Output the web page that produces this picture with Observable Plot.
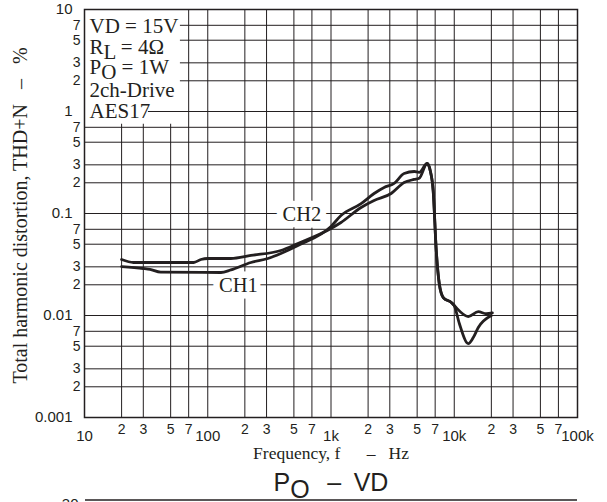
<!DOCTYPE html>
<html><head><meta charset="utf-8">
<script src="https://cdn.jsdelivr.net/npm/d3@7"></script>
<script src="https://cdn.jsdelivr.net/npm/@observablehq/plot@0.6"></script>
<style>body{margin:0;background:#fff} svg{display:block}</style>
</head><body><div id="chart"></div>
<script>
// ---- data ----
const xMajorTicks = [10, 100, 1000, 10000, 100000];
const xMajorLabels = ["10", "100", "1k", "10k", "100k"];
const xMinorTicks = [20, 30, 50, 70, 200, 300, 500, 700, 2000, 3000, 5000, 7000, 20000, 30000, 50000, 70000];
const xMinorLabels = ["2", "3", "5", "7", "2", "3", "5", "7", "2", "3", "5", "7", "2", "3", "5", "7"];
const yMajorTicks = [10, 1, 0.1, 0.01, 0.001];
const yMajorLabels = ["10", "1", "0.1", "0.01", "0.001"];
const yMinorTicks = [7, 5, 3, 2, 0.7, 0.5, 0.3, 0.2, 0.07, 0.05, 0.03, 0.02, 0.007, 0.005, 0.003, 0.002];
const yMinorLabels = ["7", "5", "3", "2", "7", "5", "3", "2", "7", "5", "3", "2", "7", "5", "3", "2"];

const ch1Freq = [20, 30, 34, 41.5, 128, 154, 224, 307, 392, 539, 1000, 1205, 1754, 2237, 2698, 3251, 3919, 4732, 5193, 6026, 6380, 6745, 7145, 7555, 8147, 9462, 10000, 13000, 15670, 18200, 20400];
const ch1Thd  = [0.0302, 0.0289, 0.0283, 0.0266, 0.0264, 0.0280, 0.0331, 0.0362, 0.0406, 0.0486, 0.0746, 0.0955, 0.125, 0.157, 0.180, 0.197, 0.247, 0.258, 0.253, 0.309, 0.264, 0.168, 0.0434, 0.0206, 0.0150, 0.0134, 0.0125, 0.00977, 0.0109, 0.0104, 0.0106];
const ch2Freq = [20, 25, 40, 77, 88, 100, 154, 224, 392, 539, 1000, 1205, 1754, 2237, 3076, 3919, 4732, 5193, 6026, 6380, 6745, 7145, 7555, 8147, 9462, 10000, 11000, 13000, 14270, 15670, 20000];
const ch2Thd  = [0.0354, 0.0331, 0.0331, 0.0331, 0.0354, 0.0362, 0.0362, 0.0388, 0.0434, 0.0508, 0.0713, 0.0816, 0.1146, 0.134, 0.157, 0.201, 0.216, 0.222, 0.309, 0.264, 0.168, 0.0434, 0.0206, 0.0150, 0.0134, 0.0125, 0.00835, 0.00531, 0.00608, 0.00762, 0.00998];

const seriesNames = ["CH1", "CH2"];
const boxLines = ["VD = 15V", "R_L = 4Ω", "P_O = 1W", "2ch-Drive", "AES17"];
const xTitle = "Frequency, f\u2003\u2002–\u2002\u00a0Hz";
const yTitle = "Total harmonic distortion, THD+N\u2002\u00a0–\u2002\u00a0%";
const nextTitle = "P_O\u2002\u2009–\u2002VD";
const nextFirstTick = "30";

// ---- style ----
const SERIF = "'Liberation Serif','Times New Roman',serif";
const SANS = "'Liberation Sans',Arial,sans-serif";
const INK = "#231f20";
const boxDy = [23, 44, 64, 87, 108];

const ch1 = ch1Freq.map((f, i) => ({f, v: ch1Thd[i]}));
const ch2 = ch2Freq.map((f, i) => ({f, v: ch2Thd[i]}));

const chart = Plot.plot({
  width: 607, height: 502,
  marginTop: 9, marginBottom: 85, marginLeft: 84, marginRight: 30,
  x: {type: "log", domain: [10, 100000], axis: null},
  y: {type: "log", domain: [0.001, 10], axis: null},
  style: {background: "white"},
  marks: [
    Plot.ruleX(xMajorTicks.concat(xMinorTicks), {stroke: INK, strokeWidth: 1}),
    Plot.ruleY(yMajorTicks.concat(yMinorTicks), {stroke: INK, strokeWidth: 1}),
    // white legend box (knocks out the grid behind the conditions text)
    Plot.rect([0], {x1: 10, x2: 56, y1: 0.75, y2: 10, fill: "white", stroke: null}),
    Plot.rect([0], {x1: 55, x2: 60, y1: 1.06, y2: 10, fill: "white", stroke: null}),
    Plot.ruleY([1], {x1: 33, x2: 100000, stroke: INK, strokeWidth: 1}),
    Plot.frame({stroke: INK, strokeWidth: 1.5}),
    ...boxLines.map((t, i) => Plot.text([t], {
      frameAnchor: "top-left", textAnchor: "start", lineAnchor: "bottom",
      dx: 5, dy: boxDy[i], fontSize: 21, fontFamily: SERIF, fill: INK
    })),
    // tick labels
    Plot.text(xMinorTicks, {x: d => d, text: (d, i) => xMinorLabels[i], frameAnchor: "bottom",
      lineAnchor: "bottom", dy: 16, fontSize: 14, fontFamily: SANS, fill: INK}),
    Plot.text(xMajorTicks, {x: d => d, text: (d, i) => xMajorLabels[i], frameAnchor: "bottom",
      lineAnchor: "bottom", dy: 23, fontSize: 15, fontFamily: SANS, fill: INK}),
    Plot.text(yMinorTicks, {y: d => d, text: (d, i) => yMinorLabels[i], frameAnchor: "left",
      textAnchor: "end", lineAnchor: "middle", dx: -4, fontSize: 14, fontFamily: SANS, fill: INK}),
    Plot.text(yMajorTicks, {y: d => d, text: (d, i) => yMajorLabels[i], frameAnchor: "left",
      textAnchor: "end", lineAnchor: "middle", dx: -12, fontSize: 15, fontFamily: SANS, fill: INK}),
    // titles
    Plot.text([xTitle], {frameAnchor: "bottom", textAnchor: "middle", lineAnchor: "bottom", dy: 41, fontSize: 17.5, fontFamily: SERIF, fill: INK}),
    Plot.text([yTitle], {frameAnchor: "left", textAnchor: "middle", rotate: -90, lineAnchor: "middle", dx: -64, dy: 2, fontSize: 20, fontFamily: SERIF, fill: INK}),
    Plot.text([nextTitle], {frameAnchor: "bottom", textAnchor: "middle", lineAnchor: "bottom", dy: 73, fontSize: 25, fontFamily: SANS, fill: INK}),
    Plot.text([nextFirstTick], {frameAnchor: "bottom-left", textAnchor: "end", lineAnchor: "bottom", dx: -6, dy: 91, fontSize: 15, fontFamily: SANS, fill: INK}),
    // series labels with white knock-out
    Plot.text([seriesNames[1]], {x: 581, y: 0.1, lineAnchor: "middle", dy: 1, fontSize: 20.5, fontFamily: SERIF,
      fill: INK, stroke: "white", strokeWidth: 13}),
    Plot.text([seriesNames[0]], {x: 177, y: 0.02, lineAnchor: "middle", dy: 1, fontSize: 20.5, fontFamily: SERIF,
      fill: INK, stroke: "white", strokeWidth: 13}),
    // curves
    Plot.line(ch2, {x: "f", y: "v", curve: "monotone-x", stroke: INK, strokeWidth: 2.8, strokeLinejoin: "round"}),
    Plot.line(ch1, {x: "f", y: "v", curve: "monotone-x", stroke: INK, strokeWidth: 2.8, strokeLinejoin: "round"})
  ]
});

// subscripts (R_L, P_O)
const NS = "http://www.w3.org/2000/svg";
d3.select(chart).selectAll("text").each(function () {
  const s = this.textContent;
  const m = s.match(/^(.*?)_(.)(.*)$/);
  if (!m) return;
  this.textContent = "";
  const a = document.createElementNS(NS, "tspan"); a.textContent = m[1]; this.appendChild(a);
  const b = document.createElementNS(NS, "tspan"); b.textContent = m[2];
  b.setAttribute("dy", "0.28em"); this.appendChild(b);
  const c = document.createElementNS(NS, "tspan"); c.textContent = m[3];
  c.setAttribute("dy", "-0.28em"); this.appendChild(c);
});
// top edge of the next chart below
d3.select(chart).append("line").attr("x1", 85).attr("x2", 577).attr("y1", 500).attr("y2", 500)
  .attr("stroke", INK).attr("stroke-width", 1.5);

document.getElementById("chart").appendChild(chart);
</script>
</body></html>
